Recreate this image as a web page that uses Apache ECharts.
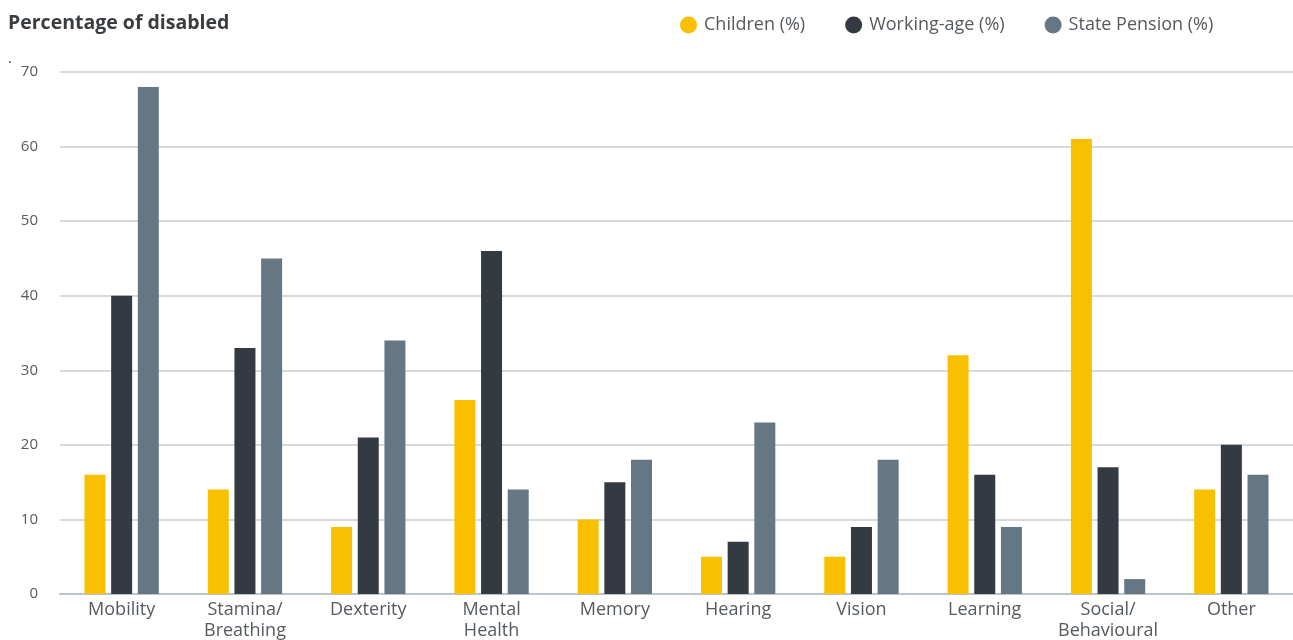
<!DOCTYPE html>
<html>
<head>
<meta charset="utf-8">
<script src="https://cdn.jsdelivr.net/npm/echarts@6/dist/echarts.min.js"></script>
<style>
  html, body { margin: 0; padding: 0; background: #fff; }
  #chart { width: 1293px; height: 640px; }
</style>
</head>
<body>
<div id="chart"></div>
<script>
// Impairment categories (x axis)
const categories = ['Mobility', 'Stamina/\nBreathing', 'Dexterity', 'Mental\nHealth', 'Memory',
                    'Hearing', 'Vision', 'Learning', 'Social/\nBehavioural', 'Other'];

// Share of disabled people reporting each impairment, by age group (%)
const children   = [16, 14, 9, 26, 10, 5, 5, 32, 61, 14];
const workingAge = [40, 33, 21, 46, 15, 7, 9, 16, 17, 20];
const statePension = [68, 45, 34, 14, 18, 23, 18, 9, 2, 16];

const seriesNames = ['Children (%)', 'Working-age (%)', 'State Pension (%)'];
const yTicks = { min: 0, max: 70, interval: 10 };

const colors = ['#F8C000', '#343A41', '#657784'];
const fontFamily = '"Open Sans", "Noto Sans", sans-serif';

const chart = echarts.init(document.getElementById('chart'), null, { renderer: 'canvas' });

const data = [children, workingAge, statePension];

chart.setOption({
  animation: false,
  color: colors,
  textStyle: { fontFamily: fontFamily },
  title: {
    text: 'Percentage of disabled',
    left: 3,
    top: 8,
    textStyle: { fontSize: 19.5, fontWeight: 'bold', color: '#3a3d40', fontFamily: fontFamily }
  },
  graphic: [{
    type: 'text',
    left: 8,
    top: 52,
    style: { text: '.', fontSize: 14, fill: '#333', fontFamily: fontFamily }
  }],
  legend: {
    top: 11,
    left: 675,
    itemGap: 40,
    itemWidth: 17,
    itemHeight: 17,
    icon: 'circle',
    textStyle: { fontSize: 18, color: '#555a5f', fontFamily: fontFamily, padding: [0, 0, 0, 2] },
    data: seriesNames
  },
  grid: { left: 60, right: 0, top: 72, bottom: 46, containLabel: false, outerBoundsMode: 'none' },
  xAxis: {
    type: 'category',
    data: categories,
    axisTick: { show: false },
    axisLine: { lineStyle: { color: '#b9c5c8', width: 2 } },
    axisLabel: {
      color: '#555a5f',
      fontSize: 18,
      margin: 5,
      lineHeight: 21,
      interval: 0,
      fontFamily: fontFamily
    }
  },
  yAxis: {
    type: 'value',
    min: yTicks.min,
    max: yTicks.max,
    interval: yTicks.interval,
    axisLine: { show: false },
    axisTick: { show: false },
    splitLine: { lineStyle: { color: '#c6cfcd', width: 1.5 } },
    axisLabel: { color: '#555a5f', fontSize: 15, margin: 22, fontFamily: fontFamily }
  },
  series: seriesNames.map((name, i) => ({
    name: name,
    type: 'bar',
    data: data[i],
    barWidth: 21,
    barGap: '27%',
    itemStyle: { color: colors[i] }
  }))
});
</script>
</body>
</html>
